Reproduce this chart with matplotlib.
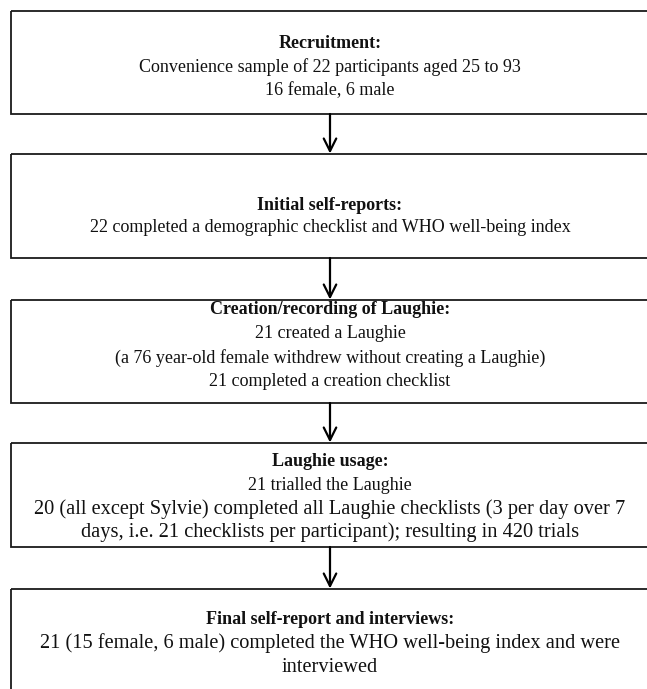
import matplotlib
import matplotlib.pyplot as plt
from matplotlib.patches import Rectangle

matplotlib.use("Agg")

W, H = 647, 689

titles = [
    "Recruitment:",
    "Initial self-reports:",
    "Creation/recording of Laughie:",
    "Laughie usage:",
    "Final self-report and interviews:",
]
bodies = [
    ["Convenience sample of 22 participants aged 25 to 93",
     "16 female, 6 male"],
    ["22 completed a demographic checklist and WHO well-being index"],
    ["21 created a Laughie",
     "(a 76 year-old female withdrew without creating a Laughie)",
     "21 completed a creation checklist"],
    ["21 trialled the Laughie",
     "20 (all except Sylvie) completed all Laughie checklists (3 per day over 7",
     "days, i.e. 21 checklists per participant); resulting in 420 trials"],
    ["21 (15 female, 6 male) completed the WHO well-being index and were",
     "interviewed"],
]

# pixel layout of the boxes and the first text line
box_top = [11, 154, 300, 443, 589]
box_bottom = [114, 258, 403, 547, 720]
first_line = [43, 205, 310, 462, 620]
line_step = [24, 23, 24, 23.5, 23.5]
# the wrapped paragraphs in the last two boxes are set a bit larger
body_size = [[13, 13], [13], [13, 13, 13], [13, 14.7, 14.7], [14.7, 14.7]]

BOX_LEFT, BOX_RIGHT, CX = 11, 649, 330

fig = plt.figure(figsize=(W / 100, H / 100), dpi=100)
ax = fig.add_axes([0, 0, 1, 1])
ax.set_xlim(0, W)
ax.set_ylim(H, 0)
ax.axis("off")

font = dict(family=["Liberation Serif", "DejaVu Serif"],
            ha="center", va="center", color="#111111")

for i, title in enumerate(titles):
    ax.add_patch(Rectangle((BOX_LEFT, box_top[i]), BOX_RIGHT - BOX_LEFT,
                           box_bottom[i] - box_top[i], fill=False,
                           edgecolor="#1a1a1a", lw=1.3, clip_on=False))
    y = first_line[i]
    ax.text(CX, y, title, fontweight="bold", fontsize=13, **font)
    for line, size in zip(bodies[i], body_size[i]):
        y += line_step[i]
        ax.text(CX, y, line, fontsize=size, **font)

# arrows between the boxes
for i in range(len(titles) - 1):
    ax.annotate("", xy=(CX, box_top[i + 1] - 0.5), xytext=(CX, box_bottom[i]),
                arrowprops=dict(arrowstyle="->,head_length=0.9,head_width=0.45",
                                lw=1.6, color="black", shrinkA=0, shrinkB=0))

fig.savefig("out.png", dpi=100, facecolor="white")
